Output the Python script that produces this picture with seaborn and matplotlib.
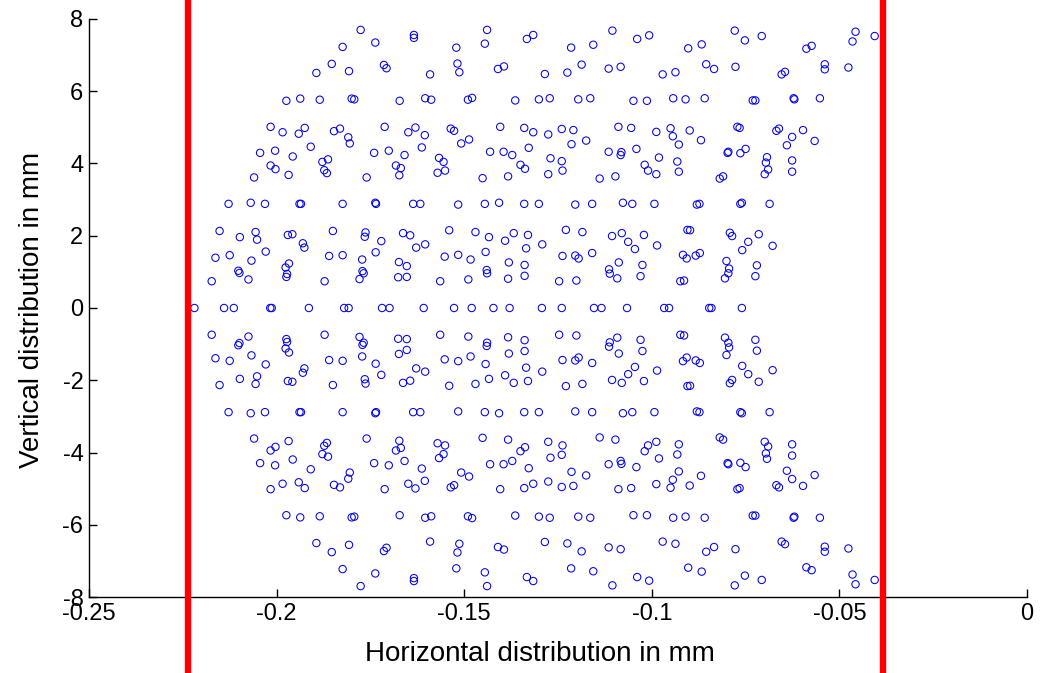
import matplotlib
matplotlib.use("Agg")
import matplotlib.pyplot as plt
import seaborn as sns
import pandas as pd

# ---- data: points above y=0 (x in mm, y in mm) ----
upper_x = [
    -0.1776, -0.1824, -0.1853, -0.1894, -0.1807, -0.1974, -0.1937, -0.1885, -0.1800, -0.1793,
    -0.2016, -0.1984, -0.1941, -0.1925, -0.1847, -0.1831, -0.1809, -0.1805, -0.1909,
    -0.2044, -0.2004, -0.1957, -0.2016, -0.2003, -0.1968, -0.2060,
    -0.1878, -0.1863, -0.1873, -0.1866,
    -0.2128, -0.2069, -0.2031, -0.1939, -0.1935, -0.1824,
    -0.1737, -0.1634, -0.1634, -0.1521, -0.1439, -0.1445, -0.1333, -0.1316,
    -0.1714, -0.1707, -0.1591, -0.1518, -0.1513, -0.1410, -0.1394,
    -0.1672, -0.1604, -0.1588, -0.1490, -0.1479, -0.1364,
    -0.1712, -0.1649, -0.1630, -0.1605, -0.1536, -0.1527, -0.1508, -0.1487, -0.1613, -0.1404, -0.1340, -0.1316, -0.1328,
    -0.1740, -0.1701, -0.1659, -0.1682, -0.1669, -0.1673,
    -0.1567, -0.1555, -0.1571, -0.1551,
    -0.1431, -0.1395, -0.1372, -0.1350, -0.1338,
    -0.1760, -0.1451, -0.1383,
    -0.1737, -0.1735, -0.1636, -0.1617, -0.1516, -0.1445, -0.1407, -0.1340,
    -0.1215, -0.1156, -0.1105, -0.1039, -0.1007, -0.0903, -0.0867,
    -0.1285, -0.1225, -0.1187, -0.1115, -0.1083, -0.0971, -0.0937, -0.0855, -0.0834,
    -0.1301, -0.1272, -0.1196, -0.1164, -0.1049, -0.1013, -0.0943, -0.0910, -0.0859,
    -0.1276, -0.1240, -0.1209, -0.1214, -0.1175, -0.1089, -0.1055, -0.0988, -0.0950, -0.0944, -0.0928, -0.0899, -0.0869,
    -0.1270, -0.1240, -0.1238, -0.1276, -0.1115, -0.1081, -0.1083, -0.1041, -0.0981, -0.1019, -0.1010, -0.0988, -0.0932, -0.0928, -0.1139, -0.1097,
    -0.1301, -0.1204, -0.1159, -0.1077, -0.1052, -0.0993, -0.0880, -0.0873,
    -0.0779, -0.0752, -0.0707, -0.0588, -0.0574, -0.0457, -0.0465, -0.0406,
    -0.0777, -0.0654, -0.0645, -0.0539, -0.0539, -0.0476,
    -0.0731, -0.0724, -0.0622, -0.0620, -0.0552,
    -0.0772, -0.0766, -0.0668, -0.0661, -0.0597, -0.0626, -0.0640, -0.0566,
    -0.0798, -0.0796, -0.0764, -0.0750, -0.0693, -0.0696, -0.0690, -0.0699, -0.0626, -0.0626,
    -0.0819, -0.0810,
    -0.0764, -0.0760, -0.0686,
    -0.2152, -0.2098, -0.2056, -0.2052, -0.2029, -0.1970, -0.1958, -0.1930, -0.1926, -0.1850,
    -0.2163, -0.2125, -0.2067, -0.2102, -0.2099, -0.2173, -0.2075,
    -0.1967, -0.1976, -0.1972, -0.1974, -0.1860, -0.1824, -0.1872,
    -0.1763, -0.1765, -0.1721, -0.1736, -0.1772, -0.1771, -0.1768, -0.1779,
    -0.1663, -0.1644, -0.1628, -0.1604, -0.1674, -0.1653, -0.1676, -0.1653,
    -0.1540, -0.1470, -0.1434, -0.1391, -0.1368, -0.1330,
    -0.1552, -0.1516, -0.1483, -0.1443, -0.1440, -0.1439, -0.1564, -0.1489,
    -0.1381, -0.1335, -0.1339, -0.1339, -0.1383,
    -0.1292, -0.1229, -0.1185, -0.1238, -0.1204, -0.1195, -0.1159,
    -0.1106, -0.1080, -0.1063, -0.1045, -0.1021, -0.0986,
    -0.1088, -0.1114, -0.1112, -0.1092, -0.1025, -0.1030, -0.1247, -0.1201,
    -0.0905, -0.0898, -0.0917, -0.0907, -0.0883, -0.0872, -0.0924, -0.0914,
    -0.0792, -0.0786, -0.0715, -0.0743, -0.0759, -0.0678, -0.0801, -0.0794, -0.0796, -0.0805, -0.0720, -0.0724,
]
upper_y = [
    7.69, 7.22, 6.75, 6.50, 6.55, 5.73, 5.79, 5.76, 5.79, 5.77,
    5.01, 4.86, 4.82, 4.98, 4.89, 4.96, 4.72, 4.55, 4.46,
    4.29, 4.35, 4.19, 3.94, 3.84, 3.68, 3.61,
    4.04, 4.11, 3.81, 3.73,
    2.88, 2.91, 2.88, 2.88, 2.88, 2.88,
    7.34, 7.55, 7.47, 7.20, 7.69, 7.31, 7.44, 7.55,
    6.72, 6.63, 6.46, 6.76, 6.52, 6.61, 6.68,
    5.73, 5.80, 5.76, 5.76, 5.81, 5.74,
    5.01, 4.86, 4.99, 4.78, 4.96, 4.90, 4.55, 4.66, 4.44, 5.01, 4.98, 4.86, 4.43,
    4.29, 4.35, 4.23, 3.94, 3.87, 3.67,
    4.15, 4.04, 3.74, 3.80,
    4.32, 4.32, 4.23, 3.96, 3.85,
    3.61, 3.59, 3.64,
    2.91, 2.88, 2.88, 2.88, 2.86, 2.88, 2.91, 2.88,
    7.20, 7.28, 7.67, 7.44, 7.54, 7.18, 7.29,
    6.47, 6.51, 6.73, 6.62, 6.67, 6.46, 6.52, 6.74, 6.61,
    5.77, 5.80, 5.77, 5.80, 5.73, 5.73, 5.80, 5.77, 5.80,
    4.80, 4.95, 4.92, 4.53, 4.63, 5.01, 4.98, 4.87, 4.97, 4.75, 4.52, 4.91, 4.64,
    4.14, 4.06, 3.80, 3.70, 4.32, 4.31, 4.23, 4.40, 4.16, 3.96, 3.80, 3.70, 4.05, 3.77, 3.58, 3.64,
    2.88, 2.86, 2.88, 2.91, 2.88, 2.88, 2.86, 2.88,
    7.67, 7.40, 7.52, 7.17, 7.25, 7.64, 7.37, 7.52,
    6.67, 6.46, 6.53, 6.74, 6.60, 6.65,
    5.74, 5.74, 5.80, 5.77, 5.80,
    5.01, 4.98, 4.90, 4.96, 4.92, 4.73, 4.50, 4.62,
    4.29, 4.32, 4.28, 4.40, 4.17, 4.02, 3.83, 3.70, 4.08, 3.77,
    3.58, 3.64,
    2.88, 2.91, 2.88,
    2.13, 1.96, 2.10, 1.89, 1.56, 2.02, 2.04, 1.79, 1.67, 2.13,
    1.39, 1.46, 1.31, 1.03, 0.97, 0.74, 0.79,
    1.23, 1.12, 0.94, 0.86, 1.44, 1.46, 0.74,
    2.09, 1.97, 1.85, 1.54, 1.34, 1.02, 0.96, 0.80,
    2.07, 2.01, 1.67, 1.76, 1.27, 1.16, 0.85, 0.86,
    2.15, 2.10, 1.96, 1.86, 2.07, 2.02,
    1.42, 1.47, 1.34, 1.55, 1.05, 0.96, 0.74, 0.79,
    1.26, 1.65, 1.19, 0.89, 0.81,
    1.76, 2.16, 2.10, 1.44, 1.45, 1.37, 1.52,
    1.99, 2.07, 1.83, 1.63, 2.02, 1.73,
    1.26, 1.07, 0.95, 0.82, 1.19, 0.88, 0.74, 0.76,
    2.16, 2.15, 1.47, 1.37, 1.45, 1.52, 0.74, 0.76,
    2.08, 1.99, 2.04, 1.83, 1.60, 1.72, 1.30, 1.09, 0.96, 0.82, 1.18, 0.88,
]

# ---- data: points on the y = 0 row ----
zero_x = [
    -0.2219, -0.2140, -0.2114, -0.2017, -0.2013, -0.1914, -0.1820, -0.1808,
    -0.1719, -0.1699, -0.1608, -0.1527, -0.1480, -0.1422, -0.1379,
    -0.1293, -0.1240, -0.1154, -0.1134, -0.1066, -0.0967, -0.0954,
    -0.0847, -0.0841, -0.0760,
]
zero_y = [0.0] * len(zero_x)

# ---- data: points below y=0 ----
lower_x = [
    -0.1776, -0.1824, -0.1853, -0.1894, -0.1807, -0.1974, -0.1937, -0.1885, -0.1800, -0.1793,
    -0.2016, -0.1984, -0.1941, -0.1925, -0.1847, -0.1831, -0.1809, -0.1805, -0.1909,
    -0.2044, -0.2004, -0.1957, -0.2016, -0.2003, -0.1968, -0.2060,
    -0.1878, -0.1863, -0.1873, -0.1866,
    -0.2128, -0.2069, -0.2031, -0.1939, -0.1935, -0.1824,
    -0.1737, -0.1634, -0.1634, -0.1521, -0.1439, -0.1445, -0.1333, -0.1316,
    -0.1714, -0.1707, -0.1591, -0.1518, -0.1513, -0.1410, -0.1394,
    -0.1672, -0.1604, -0.1588, -0.1490, -0.1479, -0.1364,
    -0.1712, -0.1649, -0.1630, -0.1605, -0.1536, -0.1527, -0.1508, -0.1487, -0.1613, -0.1404, -0.1340, -0.1316, -0.1328,
    -0.1740, -0.1701, -0.1659, -0.1682, -0.1669, -0.1673,
    -0.1567, -0.1555, -0.1571, -0.1551,
    -0.1431, -0.1395, -0.1372, -0.1350, -0.1338,
    -0.1760, -0.1451, -0.1383,
    -0.1737, -0.1735, -0.1636, -0.1617, -0.1516, -0.1445, -0.1407, -0.1340,
    -0.1215, -0.1156, -0.1105, -0.1039, -0.1007, -0.0903, -0.0867,
    -0.1285, -0.1225, -0.1187, -0.1115, -0.1083, -0.0971, -0.0937, -0.0855, -0.0834,
    -0.1301, -0.1272, -0.1196, -0.1164, -0.1049, -0.1013, -0.0943, -0.0910, -0.0859,
    -0.1276, -0.1240, -0.1209, -0.1214, -0.1175, -0.1089, -0.1055, -0.0988, -0.0950, -0.0944, -0.0928, -0.0899, -0.0869,
    -0.1270, -0.1240, -0.1238, -0.1276, -0.1115, -0.1081, -0.1083, -0.1041, -0.0981, -0.1019, -0.1010, -0.0988, -0.0932, -0.0928, -0.1139, -0.1097,
    -0.1301, -0.1204, -0.1159, -0.1077, -0.1052, -0.0993, -0.0880, -0.0873,
    -0.0779, -0.0752, -0.0707, -0.0588, -0.0574, -0.0457, -0.0465, -0.0406,
    -0.0777, -0.0654, -0.0645, -0.0539, -0.0539, -0.0476,
    -0.0731, -0.0724, -0.0622, -0.0620, -0.0552,
    -0.0772, -0.0766, -0.0668, -0.0661, -0.0597, -0.0626, -0.0640, -0.0566,
    -0.0798, -0.0796, -0.0764, -0.0750, -0.0693, -0.0696, -0.0690, -0.0699, -0.0626, -0.0626,
    -0.0819, -0.0810,
    -0.0764, -0.0760, -0.0686,
    -0.2152, -0.2098, -0.2056, -0.2052, -0.2029, -0.1970, -0.1958, -0.1930, -0.1926, -0.1850,
    -0.2163, -0.2125, -0.2067, -0.2102, -0.2099, -0.2173, -0.2075,
    -0.1967, -0.1976, -0.1972, -0.1974, -0.1860, -0.1824, -0.1872,
    -0.1763, -0.1765, -0.1721, -0.1736, -0.1772, -0.1771, -0.1768, -0.1779,
    -0.1663, -0.1644, -0.1628, -0.1604, -0.1674, -0.1653, -0.1676, -0.1653,
    -0.1540, -0.1470, -0.1434, -0.1391, -0.1368, -0.1330,
    -0.1552, -0.1516, -0.1483, -0.1443, -0.1440, -0.1439, -0.1564, -0.1489,
    -0.1381, -0.1335, -0.1339, -0.1339, -0.1383,
    -0.1292, -0.1229, -0.1185, -0.1238, -0.1204, -0.1195, -0.1159,
    -0.1106, -0.1080, -0.1063, -0.1045, -0.1021, -0.0986,
    -0.1088, -0.1114, -0.1112, -0.1092, -0.1025, -0.1030, -0.1247, -0.1201,
    -0.0905, -0.0898, -0.0917, -0.0907, -0.0883, -0.0872, -0.0924, -0.0914,
    -0.0792, -0.0786, -0.0715, -0.0743, -0.0759, -0.0678, -0.0801, -0.0794, -0.0796, -0.0805, -0.0720, -0.0724,
]
lower_y = [
    -7.69, -7.22, -6.75, -6.50, -6.55, -5.73, -5.79, -5.76, -5.79, -5.77,
    -5.01, -4.86, -4.82, -4.98, -4.89, -4.96, -4.72, -4.55, -4.46,
    -4.29, -4.35, -4.19, -3.94, -3.84, -3.68, -3.61,
    -4.04, -4.11, -3.81, -3.73,
    -2.88, -2.91, -2.88, -2.88, -2.88, -2.88,
    -7.34, -7.55, -7.47, -7.20, -7.69, -7.31, -7.44, -7.55,
    -6.72, -6.63, -6.46, -6.76, -6.52, -6.61, -6.68,
    -5.73, -5.80, -5.76, -5.76, -5.81, -5.74,
    -5.01, -4.86, -4.99, -4.78, -4.96, -4.90, -4.55, -4.66, -4.44, -5.01, -4.98, -4.86, -4.43,
    -4.29, -4.35, -4.23, -3.94, -3.87, -3.67,
    -4.15, -4.04, -3.74, -3.80,
    -4.32, -4.32, -4.23, -3.96, -3.85,
    -3.61, -3.59, -3.64,
    -2.91, -2.88, -2.88, -2.88, -2.86, -2.88, -2.91, -2.88,
    -7.20, -7.28, -7.67, -7.44, -7.54, -7.18, -7.29,
    -6.47, -6.51, -6.73, -6.62, -6.67, -6.46, -6.52, -6.74, -6.61,
    -5.77, -5.80, -5.77, -5.80, -5.73, -5.73, -5.80, -5.77, -5.80,
    -4.80, -4.95, -4.92, -4.53, -4.63, -5.01, -4.98, -4.87, -4.97, -4.75, -4.52, -4.91, -4.64,
    -4.14, -4.06, -3.80, -3.70, -4.32, -4.31, -4.23, -4.40, -4.16, -3.96, -3.80, -3.70, -4.05, -3.77, -3.58, -3.64,
    -2.88, -2.86, -2.88, -2.91, -2.88, -2.88, -2.86, -2.88,
    -7.67, -7.40, -7.52, -7.17, -7.25, -7.64, -7.37, -7.52,
    -6.67, -6.46, -6.53, -6.74, -6.60, -6.65,
    -5.74, -5.74, -5.80, -5.77, -5.80,
    -5.01, -4.98, -4.90, -4.96, -4.92, -4.73, -4.50, -4.62,
    -4.29, -4.32, -4.28, -4.40, -4.17, -4.02, -3.83, -3.70, -4.08, -3.77,
    -3.58, -3.64,
    -2.88, -2.91, -2.88,
    -2.13, -1.96, -2.10, -1.89, -1.56, -2.02, -2.04, -1.79, -1.67, -2.13,
    -1.39, -1.46, -1.31, -1.03, -0.97, -0.74, -0.79,
    -1.23, -1.12, -0.94, -0.86, -1.44, -1.46, -0.74,
    -2.09, -1.97, -1.85, -1.54, -1.34, -1.02, -0.96, -0.80,
    -2.07, -2.01, -1.67, -1.76, -1.27, -1.16, -0.85, -0.86,
    -2.15, -2.10, -1.96, -1.86, -2.07, -2.02,
    -1.42, -1.47, -1.34, -1.55, -1.05, -0.96, -0.74, -0.79,
    -1.26, -1.65, -1.19, -0.89, -0.81,
    -1.76, -2.16, -2.10, -1.44, -1.45, -1.37, -1.52,
    -1.99, -2.07, -1.83, -1.63, -2.02, -1.73,
    -1.26, -1.07, -0.95, -0.82, -1.19, -0.88, -0.74, -0.76,
    -2.16, -2.15, -1.47, -1.37, -1.45, -1.52, -0.74, -0.76,
    -2.08, -1.99, -2.04, -1.83, -1.60, -1.72, -1.30, -1.09, -0.96, -0.82, -1.18, -0.88,
]

# boundary lines (x positions in mm)
boundary_x = [-0.2237, -0.0383]

x_ticks = [-0.25, -0.2, -0.15, -0.1, -0.05, 0]
x_tick_labels = ["-0.25", "-0.2", "-0.15", "-0.1", "-0.05", "0"]
y_ticks = [-8, -6, -4, -2, 0, 2, 4, 6, 8]
y_tick_labels = ["-8", "-6", "-4", "-2", "0", "2", "4", "6", "8"]

df = pd.DataFrame({
    "x": upper_x + zero_x + lower_x,
    "y": upper_y + zero_y + lower_y,
})

sns.set_theme(style="white")
plt.rcParams["font.family"] = ["Liberation Sans", "DejaVu Sans"]

fig = plt.figure(figsize=(10.49, 6.73), dpi=100)
ax = fig.add_axes([89 / 1049, 1 - 597.3 / 673, (1027 - 89) / 1049, (597.3 - 18.7) / 673])

sns.scatterplot(data=df, x="x", y="y", ax=ax, marker="o", s=28, legend=False)
pc = ax.collections[0]
pc.set_facecolor("none")
pc.set_edgecolor("#0000ee")
pc.set_linewidth(0.75)

for bx in boundary_x:
    ax.axvline(bx, ymin=-0.2, ymax=1.1, color="#ff0000", lw=4.6, clip_on=False, zorder=5)

ax.set_xlim(-0.25, 0)
ax.set_ylim(-8, 8)
ax.set_xticks(x_ticks)
ax.set_xticklabels(x_tick_labels)
ax.set_yticks(y_ticks)
ax.set_yticklabels(y_tick_labels)

for side in ["top", "right"]:
    ax.spines[side].set_visible(False)
for side in ["left", "bottom"]:
    ax.spines[side].set_visible(True)
    ax.spines[side].set_color("black")
    ax.spines[side].set_linewidth(1.0)

ax.tick_params(axis="both", direction="in", length=6, width=1.0, colors="black",
               labelsize=17, pad=4, bottom=True, left=True)
ax.grid(False)

ax.set_xlabel("Horizontal distribution in mm", fontsize=20, color="black")
ax.set_ylabel("Vertical distribution in mm", fontsize=20, color="black")
ax.xaxis.set_label_coords(0.481, -0.076)
ax.yaxis.set_label_coords(-0.047, 0.497)

fig.savefig("out.png", dpi=100, facecolor="white")
